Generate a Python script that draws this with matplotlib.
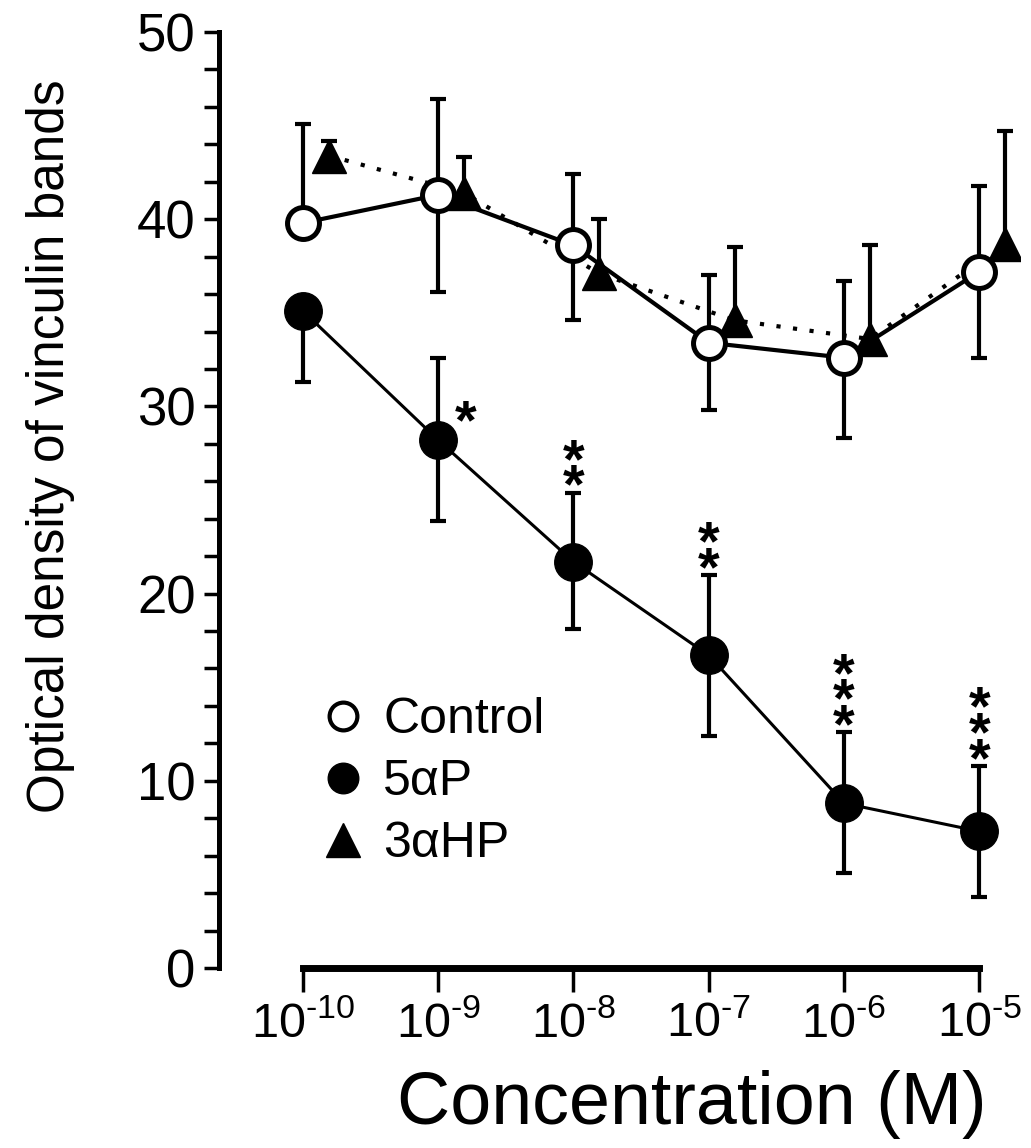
import matplotlib
matplotlib.use('Agg')
import matplotlib.pyplot as plt
from matplotlib.lines import Line2D
import numpy as np

plt.rcParams['font.family'] = ['Liberation Sans', 'DejaVu Sans']
plt.rcParams['mathtext.fontset'] = 'custom'
plt.rcParams['mathtext.rm'] = 'Liberation Sans'
plt.rcParams['mathtext.default'] = 'regular'

# concentrations (M)
conc = [1e-10, 1e-9, 1e-8, 1e-7, 1e-6, 1e-5]
tick_labels = [r'$10^{\text{-10}}$', r'$10^{\text{-9}}$', r'$10^{\text{-8}}$',
			   r'$10^{\text{-7}}$', r'$10^{\text{-6}}$', r'$10^{\text{-5}}$']

# control
control_mean = [39.8, 41.3, 38.6, 33.4, 32.6, 37.2]
control_hi = [5.3, 5.1, 3.8, 3.6, 4.1, 4.6]
control_lo = [0.0, 5.2, 4.0, 3.6, 4.3, 4.6]

# 5aP
p5_mean = [35.1, 28.2, 21.7, 16.7, 8.8, 7.3]
p5_hi = [0.0, 4.4, 3.7, 4.3, 3.8, 3.5]
p5_lo = [3.8, 4.3, 3.6, 4.3, 3.7, 3.5]

# 3aHP (only upper SEM shown)
hp3_mean = [43.4, 41.4, 37.1, 34.6, 33.6, 38.7]
hp3_hi = [0.8, 1.9, 2.9, 3.9, 5.0, 6.0]
hp3_lo = [0.0, 0.0, 0.0, 0.0, 0.0, 0.0]

# significance vs control for 5aP
stars = ['', '*', '**', '**', '***', '***']

PX = 0.72  # points per pixel at dpi 100


def draw_err(ax, x, y, lo, hi, cap=12, lw=3):
	x = np.asarray(x); y = np.asarray(y)
	lo = np.asarray(lo); hi = np.asarray(hi)
	ax.vlines(x, y - lo, y + hi, color='k', lw=lw, zorder=2)
	m = hi > 0
	ax.plot(x[m], (y + hi)[m], ls='none', marker='_', ms=cap, mew=lw, color='k', zorder=2)
	m = lo > 0
	ax.plot(x[m], (y - lo)[m], ls='none', marker='_', ms=cap, mew=lw, color='k', zorder=2)


fig = plt.figure(figsize=(10.31, 11.48), dpi=100)
ax = fig.add_axes([219/1031, 1 - 968/1148, (1020 - 219)/1031, (968 - 32)/1148])

x_tri = np.array(conc) * 10**0.19

draw_err(ax, conc, control_mean, control_lo, control_hi)
draw_err(ax, conc, p5_mean, p5_lo, p5_hi)
draw_err(ax, x_tri, hp3_mean, hp3_lo, hp3_hi)

ax.plot(x_tri, hp3_mean, ls=(0, (1, 3)), lw=3, color='k', marker='^', ms=24, zorder=3)
ax.plot(conc, p5_mean, ls='-', lw=2.2, color='k', marker='o', ms=27, zorder=4)
ax.plot(conc, control_mean, ls='-', lw=3, color='k', marker='o', ms=23,
		mfc='white', mec='k', mew=3.6, zorder=5)

# asterisks: one beside the bar, stacks sit on top of the cap
for xi, yi, hi, s in zip(conc, p5_mean, p5_hi, stars):
	if not s:
		continue
	if len(s) == 1:
		ax.annotate('*', (xi, yi), xytext=(27*PX, 2*PX), textcoords='offset points',
					ha='center', va='baseline', fontsize=40, fontweight='bold')
	else:
		ax.annotate('\n'.join(s), (xi, yi + hi), xytext=(0, -22*PX),
					textcoords='offset points', ha='center', va='bottom',
					fontsize=40, fontweight='bold', linespacing=0.34)

ax.set_xscale('log')
ax.set_xlim(10**-10.62, 10**-4.70)
ax.set_ylim(0, 50)

for s in ['top', 'right']:
	ax.spines[s].set_visible(False)
ax.spines['left'].set_bounds(0, 50)
ax.spines['left'].set_linewidth(3.6)
ax.spines['bottom'].set_bounds(conc[0], conc[-1])
ax.spines['bottom'].set_linewidth(5)

ax.set_yticks(np.arange(0, 51, 10))
ax.set_yticks(np.arange(0, 51, 2), minor=True)
ax.tick_params(axis='y', which='major', direction='out', length=11, width=2.5, labelsize=38, pad=6)
ax.tick_params(axis='y', which='minor', direction='out', length=11, width=2.5)
ax.set_xticks(conc)
ax.set_xticklabels(tick_labels)
ax.xaxis.set_minor_locator(matplotlib.ticker.NullLocator())
ax.tick_params(axis='x', which='major', direction='out', length=17, width=2.5, labelsize=35, pad=7)

ax.set_ylabel('Optical density of vinculin bands', fontsize=37)
ax.yaxis.set_label_coords(-0.180, 0.557)
ax.set_xlabel('Concentration (M)', fontsize=53, va='center')
ax.xaxis.set_label_coords(0.59, -0.146)

handles = [
	Line2D([], [], ls='none', marker='o', ms=20, mfc='white', mec='k', mew=3),
	Line2D([], [], ls='none', marker='o', ms=22, color='k'),
	Line2D([], [], ls='none', marker='^', ms=24, color='k'),
]
ax.legend(handles, ['Control', '5\u03b1P', '3\u03b1HP'], loc='upper left',
		  bbox_to_anchor=((318 - 219)/801, (968 - 697)/936), frameon=False,
		  fontsize=36, handlelength=1.0, handletextpad=0.3, labelspacing=0.32,
		  borderpad=0, borderaxespad=0)

plt.savefig('out.png', dpi=100)
